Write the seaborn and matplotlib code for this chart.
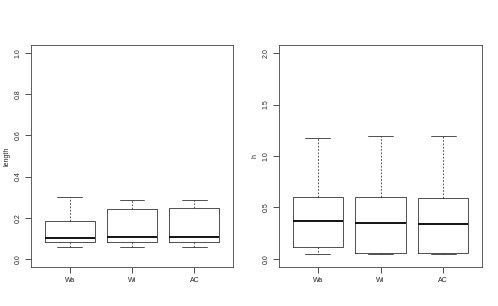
import pandas as pd
import matplotlib.pyplot as plt
import seaborn as sns

# five-number summaries: min, q1, median, q3, max
groups = ['Wa', 'Wi', 'AC']
length_wa = [0.055, 0.080, 0.100, 0.185, 0.300]
length_wi = [0.055, 0.080, 0.105, 0.240, 0.285]
length_ac = [0.055, 0.080, 0.108, 0.248, 0.285]
h_wa = [0.050, 0.115, 0.370, 0.600, 1.180]
h_wi = [0.050, 0.060, 0.345, 0.600, 1.190]
h_ac = [0.050, 0.060, 0.342, 0.595, 1.190]


def to_frame(values_by_group, name):
    rows = []
    for g, vals in zip(groups, values_by_group):
        for v in vals:
            rows.append({'group': g, name: v})
    return pd.DataFrame(rows)


df_length = to_frame([length_wa, length_wi, length_ac], 'length')
df_h = to_frame([h_wa, h_wi, h_ac], 'h')

sns.set_style('white')
plt.rcParams['font.family'] = ['Liberation Sans', 'DejaVu Sans']

fig = plt.figure(figsize=(4.98, 3.06), dpi=100)
ax1 = fig.add_axes([31 / 498, 1 - 267 / 306, 202 / 498, 222 / 306])
ax2 = fig.add_axes([279 / 498, 1 - 267 / 306, 203 / 498, 222 / 306])


def r_boxplot(ax, df, col, top, ticks, ticklabels):
    # whis large so the whiskers reach min/max like R's range
    sns.boxplot(data=df, x='group', y=col, ax=ax, width=0.8, whis=10,
                fill=False, color='#333333', linewidth=0.6,
                whiskerprops=dict(linestyle=(0, (2, 2)), linewidth=0.6),
                medianprops=dict(color='black', linewidth=1.3))
    ax.set_xlim(-0.5 - 0.12, 2.5 + 0.12)
    ax.set_ylim(-0.04 * top, 1.04 * top)
    ax.set_yticks(ticks)
    ax.set_yticklabels(ticklabels, rotation=90, va='center', fontsize=5)
    ax.set_xticks([0, 1, 2])
    ax.set_xticklabels(groups, fontsize=5)
    ax.set_xlabel('')
    ax.set_ylabel(col, fontsize=5)
    ax.yaxis.set_label_coords(-0.1, 0.5)
    ax.tick_params(axis='both', direction='out', length=4, width=0.6,
                   color='#333333', pad=3, bottom=True, left=True)
    for s in ax.spines.values():
        s.set_visible(True)
        s.set_color('#444444')
        s.set_linewidth(0.6)


r_boxplot(ax1, df_length, 'length', 1.0,
          [0.0, 0.2, 0.4, 0.6, 0.8, 1.0],
          ['0.0', '0.2', '0.4', '0.6', '0.8', '1.0'])
r_boxplot(ax2, df_h, 'h', 2.0,
          [0.0, 0.5, 1.0, 1.5, 2.0],
          ['0.0', '0.5', '1.0', '1.5', '2.0'])

plt.savefig('out.png', dpi=100)
